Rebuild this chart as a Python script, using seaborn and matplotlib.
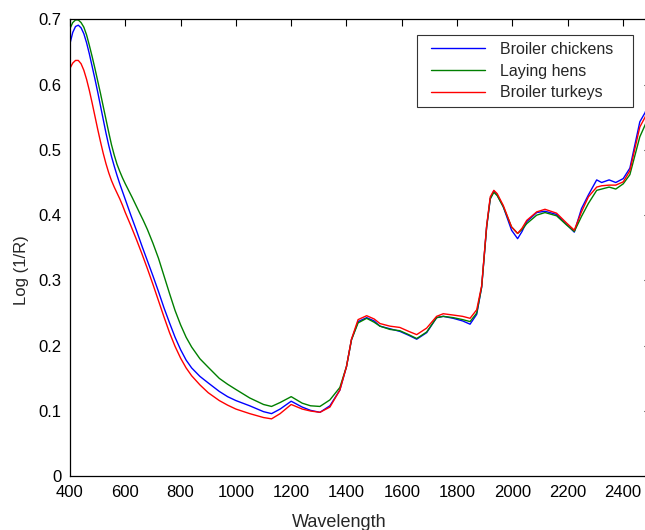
import matplotlib
matplotlib.use("Agg")
import matplotlib.pyplot as plt
import matplotlib.patches as mpatches
import seaborn as sns
import pandas as pd
from matplotlib.ticker import FuncFormatter, MultipleLocator

# Wavelength grids and Log(1/R) values
wl_bc = [400, 410, 420, 430, 440, 450, 460, 470, 480, 490, 500, 510, 520, 530, 540, 550,
         560, 570, 580, 590, 600, 620, 640, 660, 680, 700, 720, 740, 760, 780, 800, 820,
         840, 870, 900, 940, 970, 1000, 1050, 1100, 1129, 1160, 1200, 1240, 1270, 1304,
         1340, 1376, 1400, 1418, 1442, 1473, 1500, 1521, 1557, 1593, 1625, 1654, 1690,
         1726, 1750, 1786, 1820, 1847, 1871, 1889, 1907, 1920, 1933, 1945, 1967, 1997,
         2019, 2035, 2052, 2088, 2118, 2160, 2196, 2224, 2250, 2275, 2305, 2323, 2350,
         2374, 2401, 2425, 2461, 2480, 2500]
broiler_chickens = [0.663, 0.680, 0.689, 0.691, 0.687, 0.678, 0.664, 0.647, 0.628, 0.609,
                    0.589, 0.568, 0.547, 0.526, 0.507, 0.490, 0.475, 0.461, 0.448, 0.436,
                    0.424, 0.400, 0.377, 0.353, 0.330, 0.307, 0.283, 0.258, 0.235, 0.213,
                    0.194, 0.178, 0.166, 0.153, 0.143, 0.130, 0.122, 0.116, 0.108, 0.099,
                    0.096, 0.103, 0.115, 0.106, 0.101, 0.098, 0.108, 0.132, 0.168, 0.209,
                    0.237, 0.243, 0.238, 0.230, 0.226, 0.222, 0.216, 0.210, 0.220, 0.243,
                    0.245, 0.242, 0.238, 0.233, 0.248, 0.290, 0.382, 0.425, 0.437, 0.431,
                    0.413, 0.377, 0.364, 0.375, 0.390, 0.404, 0.406, 0.401, 0.386, 0.374,
                    0.410, 0.431, 0.454, 0.450, 0.454, 0.450, 0.456, 0.472, 0.543, 0.557,
                    0.580]

wl_lh = [400, 410, 420, 430, 440, 450, 460, 470, 480, 490, 500, 510, 520, 530, 540, 550,
         560, 570, 580, 590, 600, 625, 650, 665, 680, 700, 720, 740, 760, 780, 800, 820,
         840, 870, 900, 940, 970, 1000, 1050, 1100, 1129, 1160, 1200, 1240, 1270, 1304,
         1340, 1376, 1400, 1418, 1442, 1473, 1500, 1521, 1557, 1593, 1625, 1654, 1690,
         1726, 1750, 1786, 1820, 1847, 1871, 1889, 1907, 1920, 1933, 1945, 1967, 1997,
         2019, 2035, 2052, 2088, 2118, 2160, 2196, 2224, 2250, 2275, 2305, 2323, 2350,
         2374, 2401, 2425, 2461, 2480, 2500]
laying_hens = [0.686, 0.695, 0.699, 0.699, 0.695, 0.688, 0.676, 0.660, 0.643, 0.625,
               0.606, 0.587, 0.567, 0.547, 0.527, 0.508, 0.492, 0.478, 0.467, 0.457,
               0.448, 0.427, 0.405, 0.392, 0.378, 0.357, 0.334, 0.307, 0.280, 0.254,
               0.232, 0.213, 0.198, 0.180, 0.167, 0.150, 0.141, 0.133, 0.120, 0.110,
               0.107, 0.113, 0.122, 0.112, 0.108, 0.107, 0.117, 0.136, 0.168, 0.209,
               0.235, 0.242, 0.236, 0.230, 0.225, 0.223, 0.217, 0.211, 0.221, 0.243,
               0.245, 0.243, 0.240, 0.237, 0.250, 0.290, 0.382, 0.425, 0.435, 0.430,
               0.413, 0.382, 0.372, 0.378, 0.387, 0.400, 0.404, 0.399, 0.385, 0.375,
               0.398, 0.418, 0.438, 0.440, 0.443, 0.440, 0.448, 0.462, 0.520, 0.538,
               0.560]

wl_bt = [400, 410, 420, 430, 440, 450, 460, 470, 480, 490, 500, 510, 520, 530, 540, 550,
         560, 570, 580, 590, 600, 620, 640, 660, 680, 700, 720, 740, 760, 780, 800, 820,
         840, 870, 900, 940, 970, 1000, 1050, 1100, 1129, 1160, 1200, 1240, 1270, 1304,
         1340, 1376, 1400, 1418, 1442, 1473, 1500, 1521, 1557, 1593, 1625, 1654, 1690,
         1726, 1750, 1786, 1820, 1847, 1871, 1889, 1907, 1920, 1933, 1945, 1967, 1997,
         2019, 2035, 2052, 2088, 2118, 2160, 2196, 2224, 2250, 2275, 2305, 2323, 2350,
         2374, 2401, 2425, 2461, 2480, 2500]
broiler_turkeys = [0.625, 0.633, 0.637, 0.637, 0.632, 0.622, 0.608, 0.591, 0.572, 0.552,
                   0.532, 0.513, 0.495, 0.479, 0.465, 0.453, 0.443, 0.434, 0.425, 0.415,
                   0.404, 0.384, 0.363, 0.341, 0.318, 0.294, 0.269, 0.244, 0.220, 0.199,
                   0.181, 0.166, 0.154, 0.140, 0.128, 0.116, 0.109, 0.103, 0.096, 0.090,
                   0.088, 0.096, 0.110, 0.103, 0.100, 0.098, 0.106, 0.132, 0.168, 0.210,
                   0.240, 0.246, 0.241, 0.234, 0.230, 0.228, 0.222, 0.217, 0.227, 0.245,
                   0.249, 0.247, 0.245, 0.242, 0.255, 0.292, 0.384, 0.428, 0.438, 0.433,
                   0.415, 0.382, 0.372, 0.380, 0.392, 0.405, 0.409, 0.403, 0.388, 0.377,
                   0.405, 0.428, 0.443, 0.445, 0.446, 0.446, 0.451, 0.468, 0.535, 0.550,
                   0.572]

series_names = ["Broiler chickens", "Laying hens", "Broiler turkeys"]
colors = ["#0000ff", "#007f00", "#ff0000"]

df = pd.concat([
    pd.DataFrame({"Wavelength": wl_bc, "Value": broiler_chickens, "Group": series_names[0]}),
    pd.DataFrame({"Wavelength": wl_lh, "Value": laying_hens, "Group": series_names[1]}),
    pd.DataFrame({"Wavelength": wl_bt, "Value": broiler_turkeys, "Group": series_names[2]}),
], ignore_index=True)

sns.set_style("white")
plt.rcParams["font.family"] = ["Liberation Sans", "DejaVu Sans"]

fig = plt.figure(figsize=(6.45, 5.30), dpi=100)
ax = fig.add_axes([70 / 645, 53.7 / 530, 580.6 / 645, 457 / 530])

sns.lineplot(data=df, x="Wavelength", y="Value", hue="Group", hue_order=series_names,
             palette=colors, linewidth=1.0, ax=ax, sort=True, estimator=None)

ax.set_xlim(400, 2500)
ax.set_ylim(0, 0.7)
ax.xaxis.set_major_locator(MultipleLocator(200))
ax.yaxis.set_major_locator(MultipleLocator(0.1))
ax.yaxis.set_major_formatter(FuncFormatter(lambda v, p: "%g" % round(v, 2)))
ax.tick_params(direction="in", length=5, width=0.8, top=True, right=True,
               labelsize=12, colors="black", pad=6)
for s in ax.spines.values():
    s.set_color("black")
    s.set_linewidth(0.9)

ax.set_xlabel("Wavelength", fontsize=13)
ax.set_ylabel("Log (1/R)", fontsize=12)
ax.xaxis.set_label_coords(0.463, -0.083)
ax.yaxis.set_label_coords(-0.071, 0.451)

# legend entries (frameless) plus a separate square frame like the reference
leg = ax.legend(loc="upper left",
                bbox_to_anchor=(431 / 645, 1 - 42 / 530),
                bbox_transform=fig.transFigure, fontsize=11.5, frameon=False,
                handlelength=3.4, borderpad=0.0, labelspacing=0.42,
                handletextpad=0.95, borderaxespad=0)
for line in leg.get_lines():
    line.set_linewidth(1.0)
frame = mpatches.Rectangle((417 / 645, 1 - 107 / 530), 216 / 645, 72 / 530,
                           transform=fig.transFigure, fill=False,
                           edgecolor="#333333", linewidth=0.8)
fig.add_artist(frame)

fig.savefig("out.png", dpi=100)
